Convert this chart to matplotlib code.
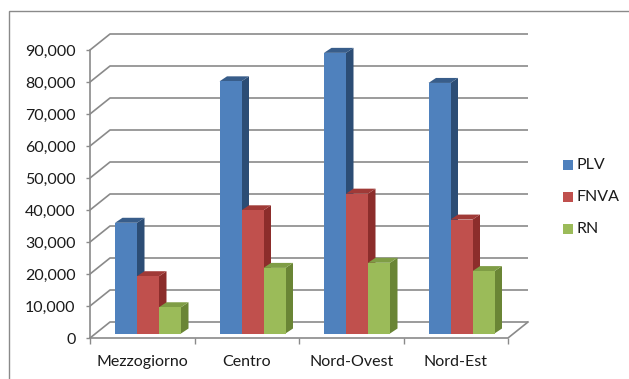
import matplotlib.pyplot as plt
from matplotlib.patches import Polygon, Rectangle
import numpy as np

plt.rcParams['font.family'] = ['Lato', 'DejaVu Sans']

# valori medi per ripartizione
regioni = ['Mezzogiorno', 'Centro', 'Nord-Ovest', 'Nord-Est']
plv = [34600, 78800, 87700, 78300]
fnva = [17900, 38500, 43700, 35600]
rn = [8200, 20500, 22100, 19500]
serie = ['PLV', 'FNVA', 'RN']
yticks = list(range(0, 90001, 10000))

# colori: fronte, lato, cima
colori = {
    'PLV': ('#4F81BD', '#2C4D75', '#385D8A'),
    'FNVA': ('#C0504D', '#8C2D2B', '#A03A37'),
    'RN': ('#9BBB59', '#6A8535', '#7F9D45'),
}

W, H = 629, 379
fig = plt.figure(figsize=(W / 100, H / 100), dpi=100)

# cornice esterna
fig.patches.append(Rectangle((9 / W, -0.1), 1.2, 1.1 - 11 / H,
                             transform=fig.transFigure, fill=False,
                             edgecolor='#8a8a8a', linewidth=1.0))

# assi: fronte da x=90 a 508 px, y=0 a 338 px, 90.000 a 50 px
ax = fig.add_axes([90 / W, (H - 338) / H, 438 / W, (338 - 34) / H])
px_cat = 104.5
px_val = 32 / 10000
ax.set_xlim(0, 438 / px_cat)
ax.set_ylim(0, (338 - 34) / px_val)
for s in ax.spines.values():
    s.set_visible(False)

# profondita della parete
dx = 20 / px_cat
dy = 16 / px_val
xmax = 438 / px_cat
grid_c = '#8a8a8a'
for v in yticks:
    ax.plot([0, dx, xmax], [v, v + dy, v + dy], color=grid_c, lw=1.2,
            solid_capstyle='butt', clip_on=False)
ax.plot([0, 0], [0, 90000], color=grid_c, lw=1.2, clip_on=False)
n = len(regioni)
ax.plot([0, n, n + dx], [0, 0, dy], color=grid_c, lw=1.2, clip_on=False)

# barre pseudo-3D
bw = 22 / px_cat
off = 25 / px_cat
base = 4.5 / px_val
bdx = 7.5 / px_cat
bdy = 5 / px_val
dati = {'PLV': plv, 'FNVA': fnva, 'RN': rn}
for k, nome in enumerate(serie):
    front, side, top = colori[nome]
    xs = np.arange(n) + off + k * bw
    vals = dati[nome]
    ax.bar(xs, vals, width=bw, bottom=base, align='edge', color=front,
           linewidth=0, zorder=3)
    for x, v in zip(xs, vals):
        t = base + v
        ax.add_patch(Polygon([(x + bw, base), (x + bw, t), (x + bw + bdx, t + bdy),
                              (x + bw + bdx, base + bdy)], closed=True,
                             facecolor=side, linewidth=0, zorder=2))
        ax.add_patch(Polygon([(x, t), (x + bw, t), (x + bw + bdx, t + bdy),
                              (x + bdx, t + bdy)], closed=True,
                             facecolor=top, linewidth=0, zorder=2))

# tick e etichette
txt_c = '#1a1a1a'
ax.set_yticks(yticks)
ax.set_yticklabels([f'{v:,}' for v in yticks], fontsize=11.5, color=txt_c)
ax.tick_params(axis='y', length=3, width=1, color=grid_c, pad=7.5)
ax.set_xticks(range(n + 1))
ax.set_xticklabels([''] * (n + 1))
ax.tick_params(axis='x', which='major', length=4.5, width=1, color=grid_c)
ax.set_xticks(np.arange(n) + 0.5, minor=True)
ax.set_xticklabels(regioni, minor=True, fontsize=11.5, color=txt_c)
ax.tick_params(axis='x', which='minor', length=0, pad=12)

# legenda
for k, nome in enumerate(serie):
    yc = 165 + k * 32
    fig.patches.append(Rectangle((563 / W, (H - yc - 5) / H), 10 / W, 10 / H,
                                 transform=fig.transFigure,
                                 facecolor=colori[nome][0], linewidth=0))
    fig.text(577 / W, (H - yc) / H, nome, fontsize=11.5, color=txt_c,
             va='center', ha='left')

fig.savefig('out.png', dpi=100)
